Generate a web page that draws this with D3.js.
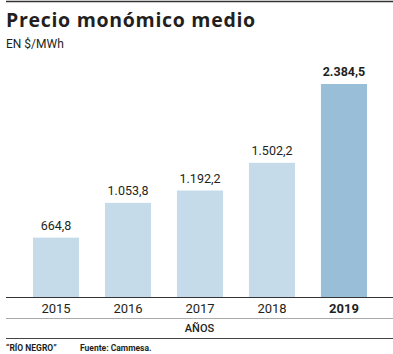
<!DOCTYPE html>
<html>
<head>
<meta charset="utf-8">
<script src="https://cdn.jsdelivr.net/npm/d3@7"></script>
<style>
  body { margin: 0; background: #fff; }
  text { font-family: "Roboto", "Liberation Sans", sans-serif; }
</style>
</head>
<body>
<div id="chart"></div>
<script>
// data
var years = ["2015", "2016", "2017", "2018", "2019"];
var values = [664.8, 1053.8, 1192.2, 1502.2, 2384.5];
var valueLabels = ["664,8", "1.053,8", "1.192,2", "1.502,2", "2.384,5"];

var W = 393, H = 354;
var svg = d3.select("#chart").append("svg")
  .attr("width", W).attr("height", H);

// plot area
var left = 6, right = 393, baseY = 297, topY = 84;

var x = d3.scaleBand()
  .domain(years)
  .range([left, 394])
  .paddingInner(0.36)
  .paddingOuter(0.375);

var y = d3.scaleLinear()
  .domain([0, 2384.5])
  .range([baseY, topY]);

// top rule
svg.append("line").attr("x1", left).attr("x2", right).attr("y1", 1.5).attr("y2", 1.5)
  .attr("stroke", "#333").attr("stroke-width", 1.5);

svg.append("text").attr("x", left).attr("y", 27)
  .style("font-family", "'Open Sans', sans-serif")
  .style("letter-spacing", "0.7px")
  .attr("font-size", 19.5).attr("font-weight", "bold").attr("fill", "#231f20")
  .text("Precio monómico medio");
svg.append("text").attr("x", left).attr("y", 48)
  .attr("font-size", 12).attr("fill", "#231f20")
  .text("EN $/MWh");

// bars
svg.selectAll(".bar").data(values).enter().append("rect")
  .attr("x", function(d, i) { return x(years[i]); })
  .attr("width", x.bandwidth())
  .attr("y", function(d) { return y(d); })
  .attr("height", function(d) { return baseY - y(d); })
  .attr("fill", function(d, i) { return i == 4 ? "#99bed8" : "#c6dbe9"; });

// value labels
svg.selectAll(".val").data(values).enter().append("text")
  .attr("x", function(d, i) { return x(years[i]) + x.bandwidth() / 2; })
  .attr("y", function(d) { return y(d) - 8; })
  .attr("text-anchor", "middle")
  .attr("font-size", 12.5)
  .attr("font-weight", function(d, i) { return i == 4 ? "bold" : "normal"; })
  .attr("fill", "#231f20")
  .text(function(d, i) { return valueLabels[i]; });

// x axis
var xAxis = svg.append("g")
  .attr("transform", "translate(0," + baseY + ")")
  .call(d3.axisBottom(x).tickSize(0).tickPadding(7));
xAxis.select(".domain").remove();
xAxis.selectAll("text")
  .attr("font-size", 13).attr("fill", "#231f20")
  .attr("font-weight", function(d) { return d == "2019" ? "bold" : "normal"; });

svg.append("line").attr("x1", left).attr("x2", right).attr("y1", baseY + 0.5).attr("y2", baseY + 0.5)
  .attr("stroke", "#333").attr("stroke-width", 1);
svg.append("line").attr("x1", left).attr("x2", right).attr("y1", 318.5).attr("y2", 318.5)
  .attr("stroke", "#aaa").attr("stroke-width", 1);

svg.append("text").attr("x", (left + right) / 2).attr("y", 332)
  .attr("text-anchor", "middle").attr("font-size", 11).attr("font-weight", 500).attr("fill", "#231f20")
  .text("AÑOS");

svg.append("line").attr("x1", left).attr("x2", right).attr("y1", 338.5).attr("y2", 338.5)
  .attr("stroke", "#444").attr("stroke-width", 1);

svg.append("text").attr("x", left).attr("y", 351)
  .attr("font-size", 8.5).attr("font-weight", "bold").attr("fill", "#231f20")
  .text("\u201CRÍO NEGRO\u201D");
svg.append("text").attr("x", 80).attr("y", 351)
  .attr("font-size", 8.5).attr("font-weight", "bold").attr("fill", "#231f20")
  .text("Fuente: Cammesa.");
</script>
</body>
</html>
